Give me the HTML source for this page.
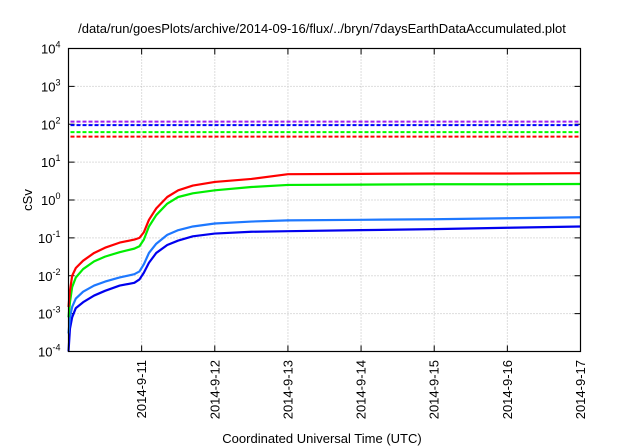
<!DOCTYPE html>
<html><head><meta charset="utf-8"><style>
body{margin:0;background:#fff}
svg{display:block;font-family:"Liberation Sans",sans-serif}
</style></head><body>
<svg id="c" width="640" height="448">
<text x="322" y="33" font-size="13" text-anchor="middle">/data/run/goesPlots/archive/2014-09-16/flux/../bryn/7daysEarthDataAccumulated.plot</text>
<text x="322" y="443" font-size="13" text-anchor="middle">Coordinated Universal Time (UTC)</text>
<text transform="translate(32,200) rotate(-90)" font-size="13" text-anchor="middle">cSv</text>
<g id="grid"></g><g id="series"></g>
<rect x="68.5" y="48.5" width="512" height="303" fill="none" stroke="#000" stroke-width="1.2"/>
</svg>
<script>
const days=[0,0.02,0.05,0.1,0.2,0.35,0.5,0.7,0.9,0.97,1.03,1.1,1.2,1.35,1.5,1.7,2,2.5,3,4,5,6,7];
const red=[0.0015,0.004,0.01,0.016,0.025,0.04,0.055,0.075,0.09,0.1,0.14,0.3,0.6,1.2,1.8,2.4,3.0,3.6,4.8,4.9,5.0,5.0,5.1];
const green=[0.0008,0.002,0.005,0.009,0.015,0.024,0.032,0.042,0.052,0.06,0.09,0.2,0.4,0.8,1.2,1.5,1.8,2.2,2.5,2.55,2.6,2.6,2.65];
const lightBlue=[0.0003,0.0008,0.0015,0.0025,0.0038,0.0055,0.007,0.009,0.011,0.013,0.02,0.04,0.07,0.12,0.16,0.2,0.24,0.27,0.29,0.3,0.31,0.33,0.35];
const darkBlue=[0.0001,0.0004,0.0008,0.0014,0.002,0.003,0.004,0.0055,0.0065,0.008,0.012,0.022,0.04,0.065,0.085,0.11,0.13,0.145,0.15,0.16,0.17,0.185,0.2];
const limits=[117,95,62,47];
const limitColors=["#a020f0","#0000ff","#00ff00","#ff0000"];
const xTicks=["2014-9-11","2014-9-12","2014-9-13","2014-9-14","2014-9-15","2014-9-16","2014-9-17"];
const yExps=[-4,-3,-2,-1,0,1,2,3,4];
const NS="http://www.w3.org/2000/svg";
const X0=68.5,X1=580.5,Y0=351.5,Y1=48.5,D=7;
const xs=d=>X0+(X1-X0)*d/D;
const ys=v=>Y0-(Math.log10(v)+4)/8*(Y0-Y1);
function mk(t,a,p){const e=document.createElementNS(NS,t);for(const k in a)e.setAttribute(k,a[k]);p.appendChild(e);return e;}
const g=document.getElementById('grid'),c=document.getElementById('c'),s=document.getElementById('series');
yExps.forEach(e=>{const y=ys(Math.pow(10,e));
 if(e>-4&&e<4){const l=mk('line',{x1:X0,x2:X1,y1:y,y2:y,stroke:'#bbb','stroke-dasharray':'1,2'},g);
 
 }
 mk('line',{x1:X0,x2:X0+6,y1:y,y2:y,stroke:'#000'},g);mk('line',{x1:X1,x2:X1-6,y1:y,y2:y,stroke:'#000'},g);
 const t=mk('text',{x:X0-8,y:y+5,'font-size':'13','text-anchor':'end'},c);
 
 
 t.innerHTML='10<tspan dy="-6" font-size="9">'+e+'</tspan>';});
xTicks.forEach((lab,i)=>{const x=xs(i+1);
 if(i<6){const l=mk('line',{x1:x,x2:x,y1:Y0,y2:Y1,stroke:'#bbb','stroke-dasharray':'1,2'},g);
 
 }
 mk('line',{x1:x,x2:x,y1:Y0,y2:Y0-6,stroke:'#000'},g);mk('line',{x1:x,x2:x,y1:Y1,y2:Y1+6,stroke:'#000'},g);
 const t=mk('text',{transform:`translate(${x+4.5},360) rotate(-90)`,'font-size':'13','text-anchor':'end'},c);
 
 
 t.textContent=lab;});
limits.forEach((v,i)=>{const y=ys(v);
 const l=mk('line',{x1:X0+2,x2:X1-2,y1:y,y2:y,stroke:limitColors[i],'stroke-width':2,'stroke-dasharray':'4,2'},s);
 
 });
[[darkBlue,'#0000ee','dark-blue-series'],[lightBlue,'#1e78ff','light-blue-series'],[green,'#00ee00','green-series'],[red,'#ff0000','red-series']].forEach(([arr,col,nm])=>{
 const p=mk('polyline',{points:arr.map((v,i)=>xs(days[i])+','+ys(v)).join(' '),fill:'none',stroke:col,'stroke-width':2.2,'stroke-linejoin':'round'},s);
 
 });
</script>
</body></html>
